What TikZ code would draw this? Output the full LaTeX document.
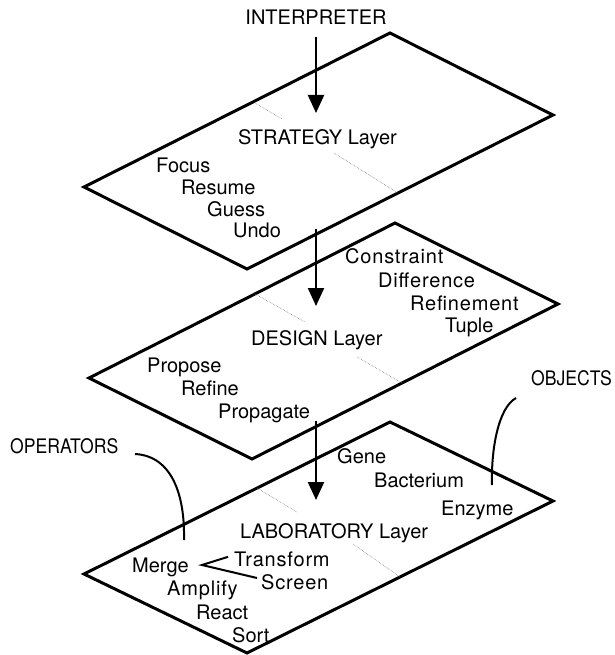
\documentclass[tikz,border=0pt]{standalone}
\usepackage{fontspec}
\setmainfont{TeX Gyre Heros}
\newfontfamily\wideface[LetterSpace=4]{TeX Gyre Heros}
\newfontfamily\tightface[FakeStretch=0.88]{TeX Gyre Heros}
\usetikzlibrary{arrows.meta}

\begin{document}
\begin{tikzpicture}[x=1pt, y=-1pt,
  layer/.style={line width=3pt},
  crease/.style={gray, line width=0.6pt, densely dotted},
  flow/.style={line width=2.2pt, -{Triangle[length=18pt,width=16pt]}},
  lead/.style={line width=2pt},
  item/.style={anchor=base west, inner sep=0pt, font=\fontsize{20}{24}\selectfont},
  wide/.style={item, font=\fontsize{20}{24}\wideface},
  callout/.style={item, font=\fontsize{20}{24}\tightface}]
\useasboundingbox (0,0) rectangle (614,655);

% Layers
\draw[layer] (390,33) -- ++(163,82) -- ++(-306,154) -- ++(-163,-82) -- cycle;
\draw[layer] (395,223) -- ++(163,81) -- ++(-306,155) -- ++(-163,-81) -- cycle;
\draw[layer] (390,422) -- ++(163,79) -- ++(-306,152) -- ++(-163,-79) -- cycle;

% Creases
\draw[crease] (255,103) -- (282,119);
\draw[crease] (334,153) -- (398,193);
\draw[crease] (255,294) -- (305,322);
\draw[crease] (357,357) -- (402,383);
\draw[crease] (257,488) -- (297,512);
\draw[crease] (353,544) -- (400,577);

% Control flow
\node[item, anchor=base] (interp) at (316,25) {INTERPRETER};
\coordinate (in1) at (316,37);
\coordinate (tip1) at (316,113);
\coordinate (in2) at (316,229);
\coordinate (tip2) at (316,306);
\coordinate (in3) at (316,421);
\coordinate (tip3) at (316,500);
\draw[flow] (in1) -- (tip1);
\draw[flow] (in2) -- (tip2);
\draw[flow] (in3) -- (tip3);

% Strategy layer
\node[item] (strat) at (238,145) {STRATEGY Layer};
\node[item] (focus) at (156,172) {Focus};
\node[item] (resume) at (181,194) {Resume};
\node[item] (guess) at (207,216) {Guess};
\node[item] (undo) at (233,237) {Undo};

% Design layer
\node[item] (design) at (251,345) {DESIGN Layer};
\node[wide] (constraint) at (345,263) {Constraint};
\node[wide] (difference) at (378,287) {Difference};
\node[wide] (refinement) at (410,310) {Refinement};
\node[item] (tuple) at (445,332) {Tuple};
\node[item] (propose) at (147,372) {Propose};
\node[item] (refine) at (181,395) {Refine};
\node[item] (propagate) at (218,418) {Propagate};

% Laboratory layer
\node[item] (lab) at (240,538) {LABORATORY Layer};
\node[item] (gene) at (337,463) {Gene};
\node[item] (bacterium) at (374,487) {Bacterium};
\node[item] (enzyme) at (441,515) {Enzyme};
\node[item] (merge) at (132,572) {Merge};
\node[wide] (transform) at (234,566) {Transform};
\node[wide] (screen) at (261,589) {Screen};
\node[wide] (amplify) at (167,595) {Amplify};
\node[item] (react) at (196,619) {React};
\node[item] (sort) at (232,642) {Sort};
\draw[lead] (transform.west) ++(-6,-2) coordinate (t0) -- (202,565) coordinate (m0) -- (257,578);

% Callouts
\node[callout] (operators) at (10,453) {OPERATORS};
\node[callout, anchor=base east] (objects) at (612,385) {OBJECTS};
\draw[lead] (135,454) .. controls (172,456) and (185,495) .. (184,540);
\draw[lead] (516,398) .. controls (498,408) and (491,450) .. (492,485);
\end{tikzpicture}
\end{document}
